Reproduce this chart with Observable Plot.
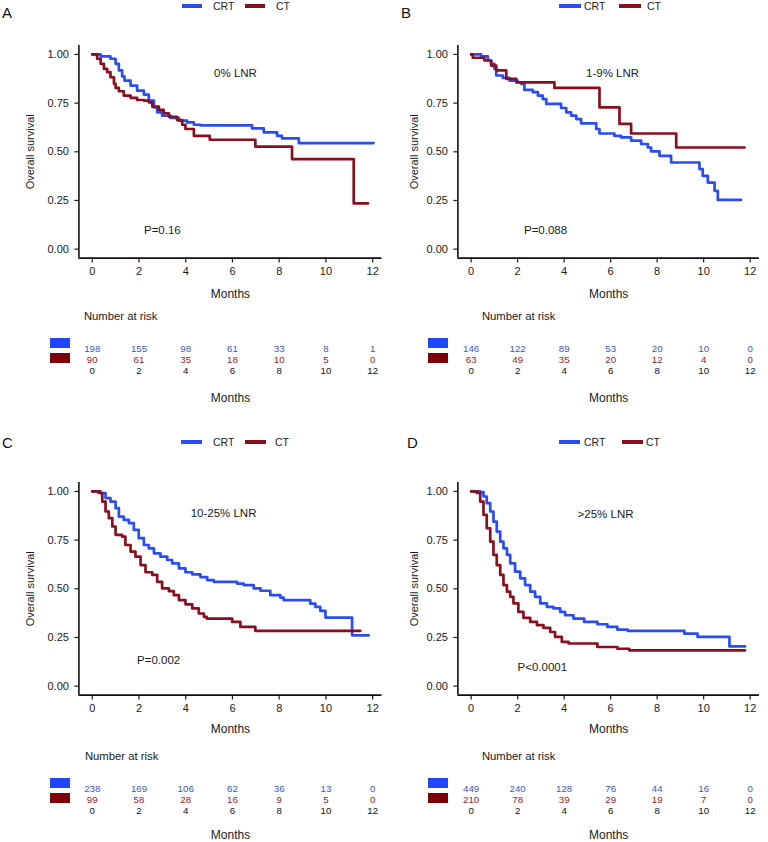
<!DOCTYPE html>
<html><head><meta charset="utf-8">
<script src="https://cdn.jsdelivr.net/npm/d3@7"></script>
<script src="https://cdn.jsdelivr.net/npm/@observablehq/plot@0.6"></script>
<style>
body{margin:0;background:#fff;}
#root{position:relative;width:768px;height:842px;font-family:"Liberation Sans",Arial,sans-serif;color:#1a1a1a;overflow:hidden;background:#fff;}
.abs{position:absolute;white-space:nowrap;line-height:1;}
</style></head><body><div id="root"></div>
<script>
// ---- data ----
const groups = ["CRT", "CT"];
const lineColors = ["#2a4cf4", "#8a0f1e"];
const numColors = ["#3a58c6", "#9c2424"];
const swatchColors = ["#1f45ff", "#7d0008"];
const xTicks = [0, 2, 4, 6, 8, 10, 12];
const yTicks = [0, 0.25, 0.5, 0.75, 1];
const riskTimes = [0, 2, 4, 6, 8, 10, 12];

// Kaplan-Meier step points [months, survival]
const A_CRT = [[0,1],[0.36,0.99],[0.78,0.978],[1.0,0.952],[1.14,0.918],[1.28,0.887],[1.38,0.866],[1.64,0.84],[1.92,0.814],[2.21,0.794],[2.42,0.763],[2.64,0.728],[2.78,0.703],[2.99,0.686],[3.35,0.674],[3.71,0.66],[4.06,0.651],[4.35,0.639],[4.63,0.636],[6.84,0.62],[7.34,0.6],[7.91,0.582],[8.12,0.569],[8.84,0.545],[12.04,0.545]];
const A_CT = [[0,1],[0.21,0.978],[0.36,0.952],[0.5,0.926],[0.64,0.909],[0.78,0.883],[0.93,0.849],[1.0,0.828],[1.14,0.811],[1.35,0.789],[1.64,0.777],[1.92,0.766],[2.21,0.763],[2.42,0.754],[2.57,0.732],[2.85,0.715],[3.06,0.698],[3.28,0.68],[3.63,0.663],[3.85,0.639],[3.99,0.617],[4.35,0.582],[5.03,0.562],[6.98,0.527],[8.55,0.462],[11.19,0.235],[11.8,0.235]];
const B_CRT = [[0,1],[0.43,0.99],[0.72,0.969],[0.86,0.952],[1.0,0.926],[1.08,0.892],[1.36,0.88],[1.65,0.866],[2.0,0.857],[2.15,0.849],[2.29,0.818],[2.65,0.806],[2.87,0.789],[3.08,0.771],[3.23,0.746],[3.87,0.725],[4.09,0.703],[4.3,0.686],[4.52,0.668],[4.73,0.646],[5.38,0.617],[5.52,0.594],[6.16,0.582],[6.45,0.574],[6.88,0.557],[7.31,0.54],[7.6,0.522],[7.74,0.502],[8.1,0.479],[8.6,0.445],[9.82,0.411],[9.96,0.376],[10.18,0.342],[10.47,0.299],[10.61,0.253],[11.61,0.253]];
const B_CT = [[0,1],[0.07,0.983],[0.57,0.969],[0.86,0.943],[1.08,0.918],[1.51,0.875],[1.94,0.857],[3.58,0.828],[5.52,0.728],[6.38,0.643],[6.88,0.594],[8.82,0.522],[11.76,0.522]];
const C_CRT = [[0,1],[0.36,0.992],[0.57,0.966],[0.78,0.948],[1.0,0.914],[1.14,0.871],[1.35,0.854],[1.57,0.837],[1.78,0.803],[1.99,0.76],[2.21,0.725],[2.42,0.708],[2.64,0.682],[2.92,0.665],[3.21,0.648],[3.42,0.631],[3.71,0.605],[3.99,0.585],[4.28,0.574],[4.63,0.56],[4.92,0.545],[5.2,0.536],[6.2,0.527],[6.48,0.519],[6.91,0.502],[7.2,0.49],[7.62,0.467],[8.05,0.455],[8.19,0.442],[9.33,0.424],[9.55,0.407],[9.76,0.387],[9.98,0.352],[11.12,0.261],[11.83,0.261]];
const C_CT = [[0,1],[0.28,0.992],[0.43,0.948],[0.57,0.897],[0.71,0.863],[0.86,0.82],[1.0,0.777],[1.28,0.768],[1.42,0.725],[1.64,0.691],[1.85,0.665],[2.07,0.622],[2.28,0.585],[2.57,0.571],[2.78,0.536],[2.99,0.502],[3.28,0.488],[3.49,0.467],[3.71,0.442],[3.99,0.42],[4.28,0.399],[4.56,0.373],[4.78,0.356],[4.9,0.347],[5.99,0.33],[6.34,0.304],[6.98,0.284],[11.47,0.284]];
const D_CRT = [[0,1],[0.39,0.997],[0.53,0.974],[0.67,0.94],[0.82,0.897],[0.96,0.845],[1.1,0.794],[1.25,0.742],[1.39,0.708],[1.54,0.674],[1.68,0.631],[1.89,0.588],[2.11,0.554],[2.32,0.519],[2.54,0.485],[2.75,0.459],[2.97,0.425],[3.26,0.407],[3.54,0.399],[3.83,0.381],[4.04,0.364],[4.4,0.347],[4.86,0.33],[5.43,0.318],[5.86,0.304],[6.29,0.29],[6.73,0.284],[9.17,0.27],[9.74,0.253],[11.11,0.204],[11.78,0.204]];
const D_CT = [[0,1],[0.24,0.992],[0.39,0.948],[0.53,0.88],[0.67,0.811],[0.82,0.742],[0.96,0.674],[1.1,0.622],[1.25,0.571],[1.39,0.519],[1.54,0.485],[1.68,0.459],[1.82,0.425],[2.03,0.381],[2.25,0.351],[2.54,0.33],[2.83,0.313],[3.11,0.299],[3.4,0.278],[3.61,0.253],[3.9,0.227],[4.19,0.219],[5.43,0.201],[6.29,0.192],[6.8,0.184],[11.78,0.184]];

// numbers at risk at months 0,2,...,12
const A_risk_CRT = [198, 155, 98, 61, 33, 8, 1];
const A_risk_CT = [90, 61, 35, 18, 10, 5, 0];
const B_risk_CRT = [146, 122, 89, 53, 20, 10, 0];
const B_risk_CT = [63, 49, 35, 20, 12, 4, 0];
const C_risk_CRT = [238, 169, 106, 62, 36, 13, 0];
const C_risk_CT = [99, 58, 28, 16, 9, 5, 0];
const D_risk_CRT = [449, 240, 128, 76, 44, 16, 0];
const D_risk_CT = [210, 78, 39, 29, 19, 7, 0];

const panelLetters = ["A", "B", "C", "D"];
const lnrLabels = ["0% LNR", "1-9% LNR", "10-25% LNR", ">25% LNR"];
const pLabels = ["P=0.16", "P=0.088", "P=0.002", "P<0.0001"];

// ---- layout ----
const xDomain = [-0.57, 12.4];
const yDomain = [-0.046, 1.046];
const FRAME_H = 212.6;
const panels = [
  {crt: A_CRT, ct: A_CT, rCRT: A_risk_CRT, rCT: A_risk_CT, left: 0, axisLeft: 78.4, ppm: 23.37, axisTop: 45, tableTop: 307,
   letterXY: [2, 5], legend: {y: 0, blue: 182, crt: 213, red: 245, ct: 276, w: 20}, lnrAt: [6.13, 0.902], pAt: [3.0, 0.098], narDx: 5, swX: 50, monthsDy: 36.5, tailDy: -9.5},
  {crt: B_CRT, ct: B_CT, rCRT: B_risk_CRT, rCT: B_risk_CT, left: 384, axisLeft: 457.4, ppm: 23.25, axisTop: 45, tableTop: 307,
   letterXY: [401, 5], legend: {y: 0, blue: 559, crt: 584, red: 619, ct: 647, w: 22}, lnrAt: [6.08, 0.902], pAt: [3.2, 0.098], narDx: 24, swX: 428, monthsDy: 36.5, tailDy: -9.5},
  {crt: C_CRT, ct: C_CT, rCRT: C_risk_CRT, rCT: C_risk_CT, left: 0, axisLeft: 78.4, ppm: 23.37, axisTop: 481.7, tableTop: 747,
   letterXY: [2, 435], legend: {y: 436, blue: 181, crt: 213, red: 245, ct: 275, w: 21}, lnrAt: [5.62, 0.89], pAt: [2.84, 0.132], narDx: 6, swX: 50, monthsDy: 34, tailDy: -12},
  {crt: D_CRT, ct: D_CT, rCRT: D_risk_CRT, rCT: D_risk_CT, left: 384, axisLeft: 457.4, ppm: 23.25, axisTop: 481.7, tableTop: 747,
   letterXY: [407, 435], legend: {y: 436, blue: 559, crt: 584, red: 622, ct: 646, w: 21}, lnrAt: [5.78, 0.885], pAt: [3.06, 0.096], narDx: 24, swX: 428, monthsDy: 34, tailDy: -12}
];

const root = document.getElementById("root");
const FONT = "Liberation Sans, Arial, sans-serif";

function addDiv(x, y, html, css) {
  const d = document.createElement("div");
  d.className = "abs";
  d.style.left = x + "px";
  d.style.top = y + "px";
  if (css) Object.assign(d.style, css);
  if (html != null) d.textContent = html;
  root.appendChild(d);
  return d;
}

panels.forEach((cfg, i) => {
  // panel letter
  addDiv(cfg.letterXY[0], cfg.letterXY[1], panelLetters[i], {fontSize: "15px", color: "#111"});
  // legend (lines)
  const L = cfg.legend;
  addDiv(L.blue, L.y + 4.3, null, {width: L.w + "px", height: "3.5px", background: lineColors[0]});
  addDiv(L.crt, L.y + 0.5, groups[0], {fontSize: "10.5px", color: "#222"});
  addDiv(L.red, L.y + 4.3, null, {width: L.w + "px", height: "3.5px", background: lineColors[1]});
  addDiv(L.ct, L.y + 0.5, groups[1], {fontSize: "10.5px", color: "#222"});

  const ml = cfg.axisLeft - cfg.left;
  const frameW = (xDomain[1] - xDomain[0]) * cfg.ppm;
  const mr = 384 - ml - frameW;
  const mt = 45, mb = 52;

  const curves = [
    ...cfg.crt.map(([t, s]) => ({t, s, g: groups[0]})),
    ...cfg.ct.map(([t, s]) => ({t, s, g: groups[1]}))
  ];
  const notes = [
    {x: cfg.lnrAt[0], y: cfg.lnrAt[1], label: lnrLabels[i]},
    {x: cfg.pAt[0], y: cfg.pAt[1], label: pLabels[i]}
  ];

  const km = Plot.plot({
    width: 384, height: mt + FRAME_H + mb,
    marginLeft: ml, marginRight: mr, marginTop: mt, marginBottom: mb,
    x: {domain: xDomain},
    y: {domain: yDomain},
    color: {domain: groups, range: lineColors},
    style: {fontFamily: FONT, fontSize: "11px", color: "#1a1a1a", background: "transparent", overflow: "visible"},
    marks: [
      Plot.axisX(xTicks, {tickSize: 5, tickPadding: 4, fontSize: 11, label: null, strokeWidth: 1.2}),
      Plot.axisY(yTicks, {tickSize: 4, tickPadding: 6, fontSize: 11, label: null, tickFormat: d3.format(".2f"), strokeWidth: 1.2}),
      Plot.ruleX([xDomain[0]], {stroke: "#111", strokeWidth: 1.6}),
      Plot.ruleY([yDomain[0]], {stroke: "#111", strokeWidth: 1.6}),
      Plot.line(curves, {x: "t", y: "s", z: "g", stroke: "g", curve: "step-after", strokeWidth: 2.7}),
      Plot.text(notes, {x: "x", y: "y", text: "label", fontSize: 11.5, fill: "#1a1a1a"}),
      Plot.text(["Overall survival"], {frameAnchor: "left", rotate: -90, dx: 30 - ml, textAnchor: "middle", lineAnchor: "middle", fontSize: 11, fill: "#1a1a1a"}),
      Plot.text(["Months"], {frameAnchor: "bottom", dy: cfg.monthsDy, lineAnchor: "middle", fontSize: 12, fill: "#1a1a1a"})
    ]
  });
  Object.assign(km.style, {position: "absolute", left: cfg.left + "px", top: (cfg.axisTop - mt) + "px"});
  root.appendChild(km);

  // number at risk table
  const rows = [
    ...riskTimes.map((t, k) => ({t, g: groups[0], n: cfg.rCRT[k]})),
    ...riskTimes.map((t, k) => ({t, g: groups[1], n: cfg.rCT[k]}))
  ];
  const TH = 100;
  const table = Plot.plot({
    width: 384, height: TH,
    marginLeft: ml, marginRight: mr, marginTop: 0, marginBottom: 0,
    x: {domain: xDomain, axis: null},
    y: {type: "point", domain: [...groups, "Months"], range: [35, 69], axis: null},
    style: {fontFamily: FONT, fontSize: "10px", background: "transparent", overflow: "visible"},
    marks: [
      Plot.text(rows, {x: "t", y: "g", text: (d) => String(d.n), fill: (d) => numColors[groups.indexOf(d.g)], fontSize: 9.7}),
      Plot.text(riskTimes, {x: (d) => d, y: () => "Months", text: (d) => String(d), fill: "#111", fontSize: 9.7}),
      Plot.text(["Number at risk"], {frameAnchor: "top-left", dx: cfg.narDx, dy: 8.5, lineAnchor: "middle", fontSize: 11.3, fill: "#1a1a1a"}),
      Plot.text(["Months"], {frameAnchor: "bottom", dy: cfg.tailDy, lineAnchor: "middle", fontSize: 12, fill: "#1a1a1a"})
    ]
  });
  Object.assign(table.style, {position: "absolute", left: cfg.left + "px", top: cfg.tableTop + "px"});
  root.appendChild(table);

  // colour swatches of the table
  addDiv(cfg.swX, cfg.tableTop + 31, null, {width: "20px", height: "10px", background: swatchColors[0]});
  addDiv(cfg.swX, cfg.tableTop + 45.5, null, {width: "20px", height: "10px", background: swatchColors[1]});
});
</script>
</body></html>
